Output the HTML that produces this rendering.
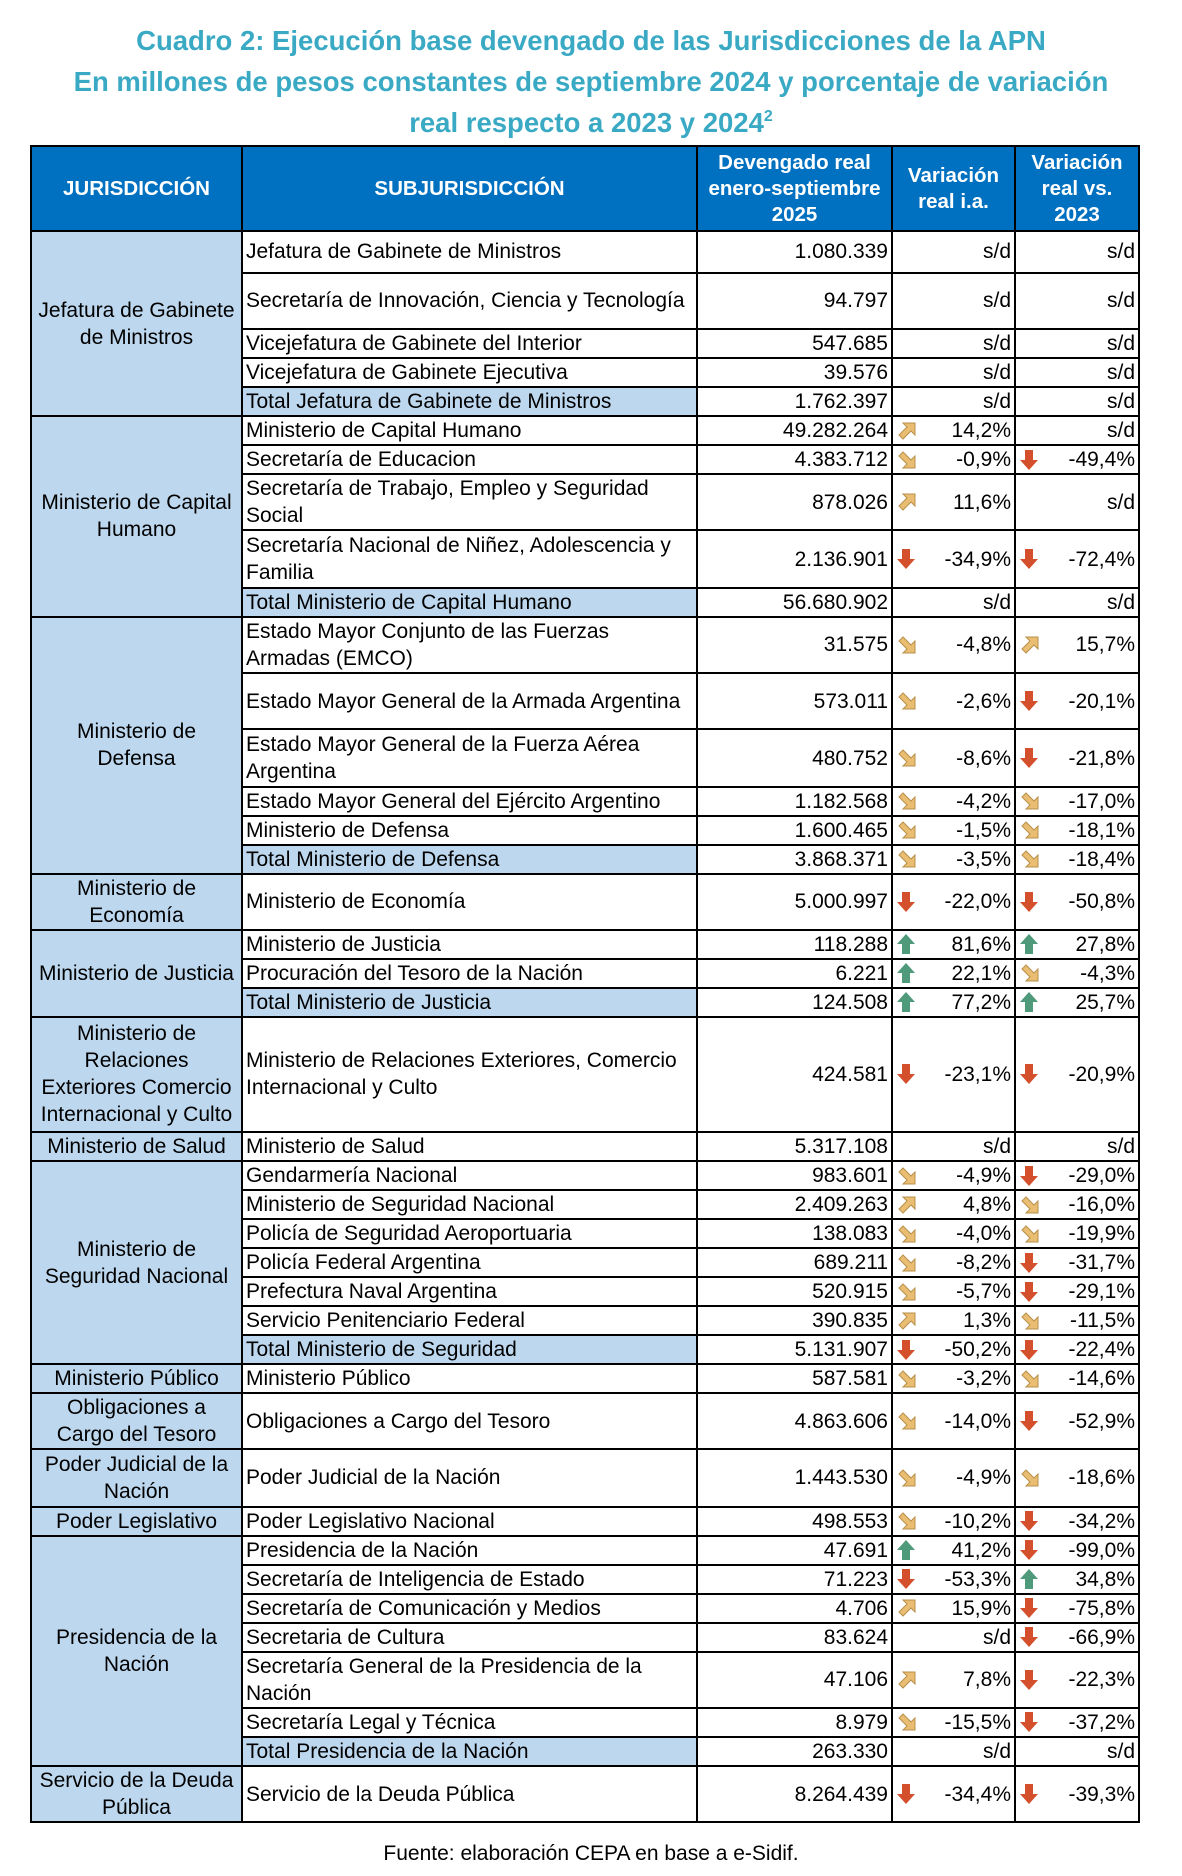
<!DOCTYPE html>
<html><head><meta charset="utf-8">
<style>
body{margin:0;width:1182px;height:1876px;background:#fff;font-family:"Liberation Sans",Arial,sans-serif;position:relative;overflow:hidden}
#title{position:absolute;left:0;top:20px;width:1182px;text-align:center;color:#3aa9c4;font-weight:bold;font-size:27.5px;line-height:41px}
#title sup{font-size:16px;vertical-align:11px;line-height:0}
table{position:absolute;left:30px;top:145px;border-collapse:collapse;table-layout:fixed}
td,th{border:2px solid #000;padding:0 3px;font-size:21px;line-height:27px;color:#000;overflow:hidden}
th{background:#0070c0;color:#fff;font-size:20.5px;font-weight:bold;line-height:26px;text-align:center}
td.j{background:#bdd7ee;text-align:center;padding:0 4px}
td.s{text-align:left}
td.tot{background:#bdd7ee}
td.n{text-align:right}
td.v{text-align:right;position:relative;padding-right:3px}
td.v svg{position:absolute;left:3px;top:50%;margin-top:-11px}
#src{position:absolute;left:0;top:1842px;width:1182px;text-align:center;font-size:21px}
</style></head><body>
<div id="title">Cuadro 2: Ejecución base devengado de las Jurisdicciones de la APN<br>En millones de pesos constantes de septiembre 2024 y porcentaje de variación<br>real respecto a 2023 y 2024<sup>2</sup></div>
<table id="tbl">
<colgroup><col style="width:211px"><col style="width:455px"><col style="width:195px"><col style="width:123px"><col style="width:124px"></colgroup>
<thead><tr style="height:85px">
<th>JURISDICCIÓN</th>
<th>SUBJURISDICCIÓN</th>
<th>Devengado real enero-septiembre 2025</th>
<th>Variación real i.a.</th>
<th>Variación real vs. 2023</th>
</tr></thead>
<tbody id="tb"></tbody></table>
<div id="src">Fuente: elaboración CEPA en base a e-Sidif.</div>
<script>
const groups=[
["Jefatura de Gabinete de Ministros",[
["Jefatura de Gabinete de Ministros","1.080.339","","s/d","","s/d",36],
["Secretaría de Innovación, Ciencia y Tecnología","94.797","","s/d","","s/d",48],
["Vicejefatura de Gabinete del Interior","547.685","","s/d","","s/d",24],
["Vicejefatura de Gabinete Ejecutiva","39.576","","s/d","","s/d",24],
["Total Jefatura de Gabinete de Ministros","1.762.397","","s/d","","s/d",24,1]]],
["Ministerio de Capital Humano",[
["Ministerio de Capital Humano","49.282.264","u","14,2%","","s/d",24],
["Secretaría de Educacion","4.383.712","d","-0,9%","r","-49,4%",24],
["Secretaría de Trabajo, Empleo y Seguridad Social","878.026","u","11,6%","","s/d",48],
["Secretaría Nacional de Niñez, Adolescencia y Familia","2.136.901","r","-34,9%","r","-72,4%",49],
["Total Ministerio de Capital Humano","56.680.902","","s/d","","s/d",24,1]]],
["Ministerio de Defensa",[
["Estado Mayor Conjunto de las Fuerzas Armadas (EMCO)","31.575","d","-4,8%","u","15,7%",48],
["Estado Mayor General de la Armada Argentina","573.011","d","-2,6%","r","-20,1%",48],
["Estado Mayor General de la Fuerza Aérea Argentina","480.752","d","-8,6%","r","-21,8%",49],
["Estado Mayor General del Ejército Argentino","1.182.568","d","-4,2%","d","-17,0%",24],
["Ministerio de Defensa","1.600.465","d","-1,5%","d","-18,1%",24],
["Total Ministerio de Defensa","3.868.371","d","-3,5%","d","-18,4%",24,1]]],
["Ministerio de Economía",[
["Ministerio de Economía","5.000.997","r","-22,0%","r","-50,8%",48]]],
["Ministerio de Justicia",[
["Ministerio de Justicia","118.288","g","81,6%","g","27,8%",24],
["Procuración del Tesoro de la Nación","6.221","g","22,1%","d","-4,3%",24],
["Total Ministerio de Justicia","124.508","g","77,2%","g","25,7%",24,1]]],
["Ministerio de Relaciones Exteriores Comercio Internacional y Culto",[
["Ministerio de Relaciones Exteriores, Comercio Internacional y Culto","424.581","r","-23,1%","r","-20,9%",97]]],
["Ministerio de Salud",[
["Ministerio de Salud","5.317.108","","s/d","","s/d",24]]],
["Ministerio de Seguridad Nacional",[
["Gendarmería Nacional","983.601","d","-4,9%","r","-29,0%",24],
["Ministerio de Seguridad Nacional","2.409.263","u","4,8%","d","-16,0%",24],
["Policía de Seguridad Aeroportuaria","138.083","d","-4,0%","d","-19,9%",24],
["Policía Federal Argentina","689.211","d","-8,2%","r","-31,7%",24],
["Prefectura Naval Argentina","520.915","d","-5,7%","r","-29,1%",24],
["Servicio Penitenciario Federal","390.835","u","1,3%","d","-11,5%",24],
["Total Ministerio de Seguridad","5.131.907","r","-50,2%","r","-22,4%",24,1]]],
["Ministerio Público",[
["Ministerio Público","587.581","d","-3,2%","d","-14,6%",22]]],
["Obligaciones a Cargo del Tesoro",[
["Obligaciones a Cargo del Tesoro","4.863.606","d","-14,0%","r","-52,9%",48]]],
["Poder Judicial de la Nación",[
["Poder Judicial de la Nación","1.443.530","d","-4,9%","d","-18,6%",49]]],
["Poder Legislativo",[
["Poder Legislativo Nacional","498.553","d","-10,2%","r","-34,2%",24]]],
["Presidencia de la Nación",[
["Presidencia de la Nación","47.691","g","41,2%","r","-99,0%",24],
["Secretaría de Inteligencia de Estado","71.223","r","-53,3%","g","34,8%",24],
["Secretaría de Comunicación y Medios","4.706","u","15,9%","r","-75,8%",24],
["Secretaria de Cultura","83.624","","s/d","r","-66,9%",24],
["Secretaría General de la Presidencia de la Nación","47.106","u","7,8%","r","-22,3%",48],
["Secretaría Legal y Técnica","8.979","d","-15,5%","r","-37,2%",24],
["Total Presidencia de la Nación","263.330","","s/d","","s/d",25,1]]],
["Servicio de la Deuda Pública",[
["Servicio de la Deuda Pública","8.264.439","r","-34,4%","r","-39,3%",48]]]
];
const arrows={
r:'<svg width="20" height="22" viewBox="0 0 20 22"><path d="M6 1h8v10h5l-9 10-9-10h5z" fill="#d4502c"/></svg>',
g:'<svg width="20" height="22" viewBox="0 0 20 22"><path d="M10 1l9 10h-5v10h-8v-10h-5z" fill="#4e9a7a"/></svg>',
u:'<svg width="22" height="22" viewBox="0 0 22 22"><path d="M7 3h12v12l-4-4-8 8-4-4 8-8z" fill="#e9bd72" stroke="#b8904a" stroke-width="1"/></svg>',
d:'<svg width="22" height="22" viewBox="0 0 22 22"><path d="M7 19h12v-12l-4 4-8-8-4 4 8 8z" fill="#e9bd72" stroke="#b8904a" stroke-width="1"/></svg>'
};
const tb=document.getElementById('tb');
function varCell(a,v){
  const td=document.createElement('td');td.className='v';
  td.innerHTML=(a?arrows[a]:'')+v;
  return td;
}
groups.forEach(g=>{
  g[1].forEach((r,i)=>{
    const tr=document.createElement('tr');
    tr.style.height=(r[6]*1.2-1.35).toFixed(2)+'px';
    
    
    if(i===0){
      const j=document.createElement('td');j.className='j';j.rowSpan=g[1].length;j.textContent=g[0];
      
      
      tr.appendChild(j);
    }
    const s=document.createElement('td');s.className='s'+(r[7]?' tot':'');s.textContent=r[0];
    
    
    tr.appendChild(s);
    const n=document.createElement('td');n.className='n';n.textContent=r[1];
    
    
    tr.appendChild(n);
    const v1=varCell(r[2],r[3]);
    
    
    tr.appendChild(v1);
    const v2=varCell(r[4],r[5]);
    
    
    tr.appendChild(v2);
    tb.appendChild(tr);
  });
});
</script>
</body></html>
